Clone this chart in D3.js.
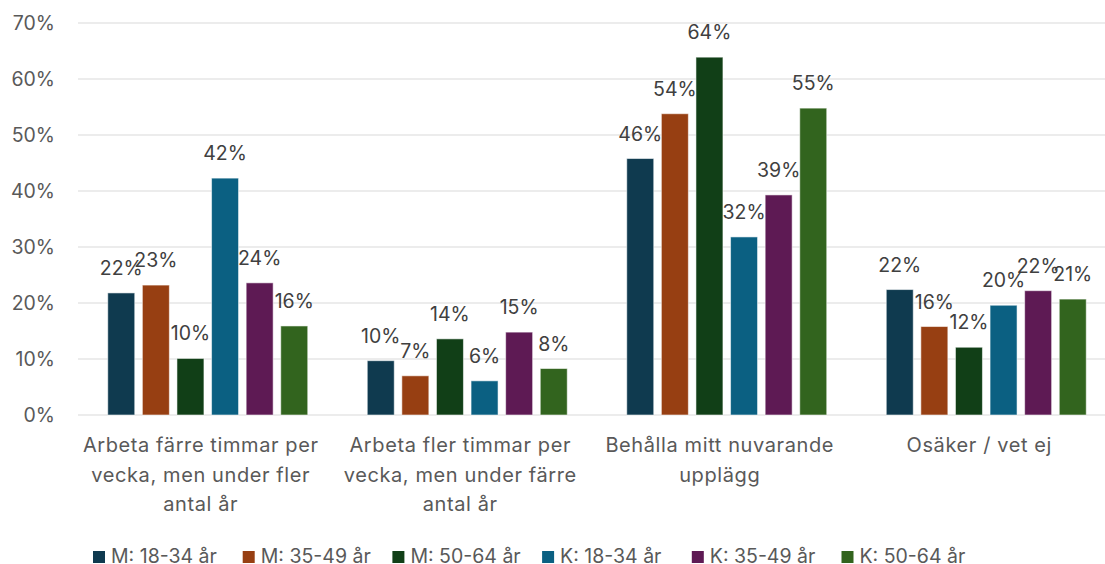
<!DOCTYPE html>
<html>
<head>
<meta charset="utf-8">
<script src="https://cdn.jsdelivr.net/npm/d3@7"></script>
<style>
  body { margin: 0; background: #fff; }
  svg { display: block; font-family: Inter, "Open Sans", sans-serif; }
</style>
</head>
<body>
<svg id="chart"></svg>
<script>
// Chart data
const categories = ["Arbeta färre timmar per vecka, men under fler antal år",
                    "Arbeta fler timmar per vecka, men under färre antal år",
                    "Behålla mitt nuvarande upplägg",
                    "Osäker / vet ej"];
const categoryLines = [["Arbeta färre timmar per", "vecka, men under fler", "antal år"],
                       ["Arbeta fler timmar per", "vecka, men under färre", "antal år"],
                       ["Behålla mitt nuvarande", "upplägg"],
                       ["Osäker / vet ej"]];
const series = ["M: 18-34 år", "M: 35-49 år", "M: 50-64 år", "K: 18-34 år", "K: 35-49 år", "K: 50-64 år"];
const colors = ["#0f3a4f", "#973f12", "#113f17", "#0b6082", "#5e1a54", "#32641e"];

// one array per series, values in category order
const m1834 = [0.218, 0.097, 0.458, 0.224];
const m3549 = [0.232, 0.070, 0.538, 0.158];
const m5064 = [0.101, 0.136, 0.639, 0.121];
const k1834 = [0.423, 0.061, 0.318, 0.196];
const k3549 = [0.236, 0.148, 0.393, 0.222];
const k5064 = [0.159, 0.083, 0.548, 0.207];
const seriesValues = [m1834, m3549, m5064, k1834, k3549, k5064];
const yTicks = [0, 0.1, 0.2, 0.3, 0.4, 0.5, 0.6, 0.7];

const W = 1105, H = 564;
const margin = {top: 23, left: 78, bottom: 149};
const plotRight = 1116;   // Excel plot area runs past the cropped edge
const zeroY = H - margin.bottom;

const svg = d3.select("#chart").attr("width", W).attr("height", H);

const x0 = d3.scaleBand().domain(categories).range([margin.left, plotRight]);
const x1 = d3.scaleBand().domain(series).range([0, x0.bandwidth()])
    .paddingInner(0.22).paddingOuter(0.86);
const y = d3.scaleLinear().domain([0, 0.7]).range([zeroY, margin.top]);

// Gridlines
svg.append("g")
  .selectAll("line")
  .data(yTicks)
  .join("line")
    .attr("x1", margin.left).attr("x2", W)
    .attr("y1", d => y(d)).attr("y2", d => y(d))
    .attr("stroke", "#d9d9d9")
    .attr("stroke-width", 1.2);

// Y axis labels
const yAxis = svg.append("g")
    .attr("transform", `translate(${margin.left - 23},0)`)
    .call(d3.axisLeft(y).tickValues(yTicks).tickFormat(d3.format(".0%")).tickSize(0).tickPadding(0));
yAxis.select(".domain").remove();
yAxis.selectAll("text")
    .attr("font-size", 19.5)
    .attr("font-family", "Inter, sans-serif")
    .attr("fill", "#595959")
    .attr("dy", "0.35em");

// Bars
const rows = categories.map((c, ci) => ({
  cat: c,
  vals: series.map((s, si) => ({s, si, v: seriesValues[si][ci]}))
}));

const groups = svg.append("g")
  .selectAll("g")
  .data(rows)
  .join("g")
    .attr("transform", d => `translate(${x0(d.cat)},0)`);

groups.selectAll("rect")
  .data(d => d.vals)
  .join("rect")
    .attr("x", d => x1(d.s))
    .attr("y", d => y(d.v))
    .attr("width", x1.bandwidth())
    .attr("height", d => zeroY - y(d.v))
    .attr("fill", d => colors[d.si])
    .attr("stroke", "rgba(255,255,255,0.55)")
    .attr("stroke-width", 1);

// Data labels
groups.selectAll("text")
  .data(d => d.vals)
  .join("text")
    .attr("x", d => x1(d.s) + x1.bandwidth() / 2)
    .attr("y", d => y(d.v) - 18)
    .attr("text-anchor", "middle")
    .attr("font-size", 19.5)
    .attr("fill", "#404040")
    .text(d => d3.format(".0%")(d.v));

// Category labels
categories.forEach((c, i) => {
  const t = svg.append("text")
      .attr("text-anchor", "middle")
      .attr("font-size", 20)
      .attr("letter-spacing", 0.6)
      .attr("fill", "#595959");
  categoryLines[i].forEach((line, li) => {
    t.append("tspan")
      .attr("x", x0(c) + x0.bandwidth() / 2 - 7)
      .attr("y", zeroY + 37 + li * 29.5)
      .text(line);
  });
});

// Legend
const legend = svg.append("g")
  .selectAll("g")
  .data(series)
  .join("g")
    .attr("transform", (d, i) => `translate(${93 + i * 149.7},551)`);
legend.append("rect")
    .attr("width", 12).attr("height", 12)
    .attr("fill", (d, i) => colors[i]);
legend.append("text")
    .attr("x", 18).attr("y", 12)
    .attr("font-size", 19.5)
    .attr("fill", "#595959")
    .text(d => d);
</script>
</body>
</html>
